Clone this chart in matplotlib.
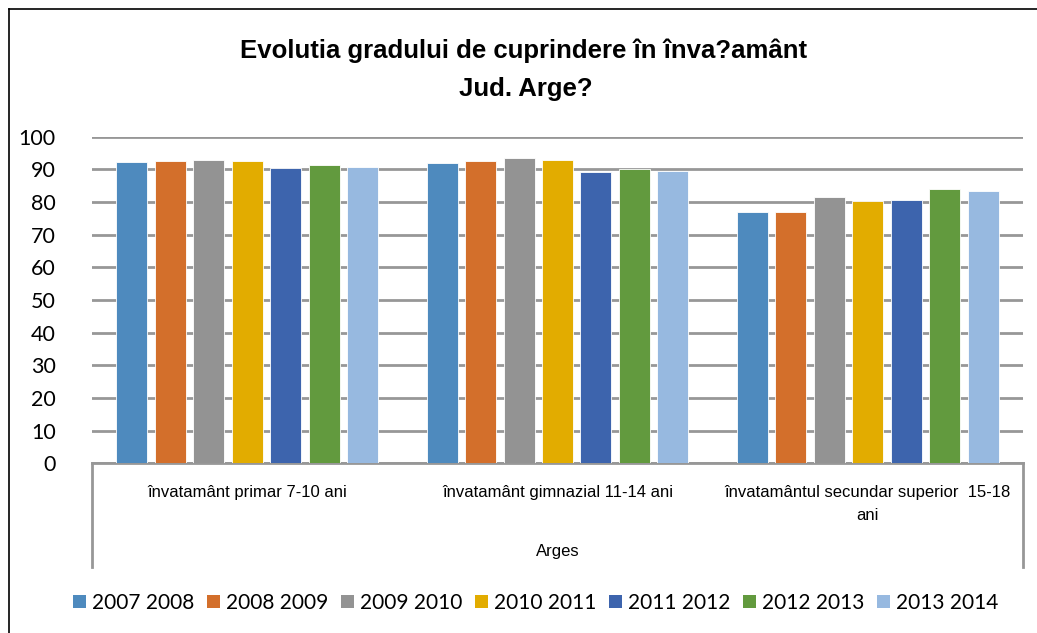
import matplotlib
matplotlib.use("Agg")
import matplotlib.pyplot as plt
from matplotlib.lines import Line2D
import numpy as np

categories = ["învatamânt primar 7-10 ani",
              "învatamânt gimnazial 11-14 ani",
              "învatamântul secundar superior  15-18\nani"]
series = ["2007 2008", "2008 2009", "2009 2010", "2010 2011",
          "2011 2012", "2012 2013", "2013 2014"]
values = [
    [92.4, 92.0, 77.0],
    [92.7, 92.7, 76.9],
    [92.8, 93.5, 81.6],
    [92.5, 92.8, 80.3],
    [90.4, 89.2, 80.6],
    [91.2, 90.0, 83.9],
    [90.7, 89.6, 83.3],
]
colors = ["#4E8ABE", "#D36F2B", "#939393", "#E2AC00",
          "#3D64AD", "#629A3E", "#97B9E0"]
yticks = [0, 10, 20, 30, 40, 50, 60, 70, 80, 90, 100]
title_lines = ["Evolutia gradului de cuprindere în înva?amânt", "Jud. Arge?"]
axis_title = "Arges"

W, H = 1037, 633
fig = plt.figure(figsize=(W / 100, H / 100), dpi=100)
ax = fig.add_axes([92 / W, 1 - 463.3 / H, (1023 - 92) / W, (463.3 - 136.7) / H])

x = np.arange(len(categories))
pitch = 0.124
bw = 0.1
for i, (s, vals, c) in enumerate(zip(series, values, colors)):
    ax.bar(x + (i - 3) * pitch, vals, width=bw, color=c, label=s,
           edgecolor="white", linewidth=0.6, zorder=3)

ax.set_xlim(-0.5, len(categories) - 0.5)
ax.set_ylim(0, 100)
ax.set_yticks(yticks)
ax.yaxis.grid(True, color="#979797", linewidth=2, zorder=0)
ax.set_axisbelow(True)
for sp in ["top", "right", "left"]:
    ax.spines[sp].set_visible(False)
ax.spines["bottom"].set_color("#979797")
ax.spines["bottom"].set_linewidth(2)
ax.tick_params(axis="y", length=0, pad=26, labelsize=15.5)
for lab in ax.get_yticklabels():
    lab.set_fontfamily("Lato")
ax.set_xticks([])

# category labels
trans = ax.get_xaxis_transform()
for xi, cat in zip(x, categories):
    ax.text(xi, -0.066, cat, transform=trans, ha="center", va="top",
            fontsize=12, family="Liberation Sans", linespacing=1.65)
ax.text(0.5, -0.27, axis_title, transform=ax.transAxes, ha="center", va="center",
        fontsize=12, family="Liberation Sans")

# multi-level axis box lines
for xa in (0, 1):
    ax.add_line(Line2D([xa, xa], [0, -0.3175], transform=ax.transAxes,
                       color="#979797", linewidth=2, clip_on=False))

# title
fig.text(524 / W, 1 - 51 / H, title_lines[0], ha="center", va="center",
         fontsize=18.5, fontweight="bold", family="Liberation Sans")
fig.text(526 / W, 1 - 89 / H, title_lines[1], ha="center", va="center",
         fontsize=18.5, fontweight="bold", family="Liberation Sans")

# outer chart border (left and top)
fig.add_artist(Line2D([9 / W, 9 / W], [0, 1 - 9 / H], transform=fig.transFigure,
                      color="black", linewidth=1.2))
fig.add_artist(Line2D([9 / W, 1], [1 - 9 / H, 1 - 9 / H], transform=fig.transFigure,
                      color="black", linewidth=1.2))

leg = fig.legend(loc="center", bbox_to_anchor=(536 / W, 1 - 603 / H), ncol=7,
                 frameon=False, prop={"family": "Lato", "size": 15},
                 handlelength=0.62, handleheight=0.62, handletextpad=0.3,
                 columnspacing=0.6, borderpad=0)
for h in leg.legend_handles:
    h.set_edgecolor("none")

fig.savefig("out.png", dpi=100)
